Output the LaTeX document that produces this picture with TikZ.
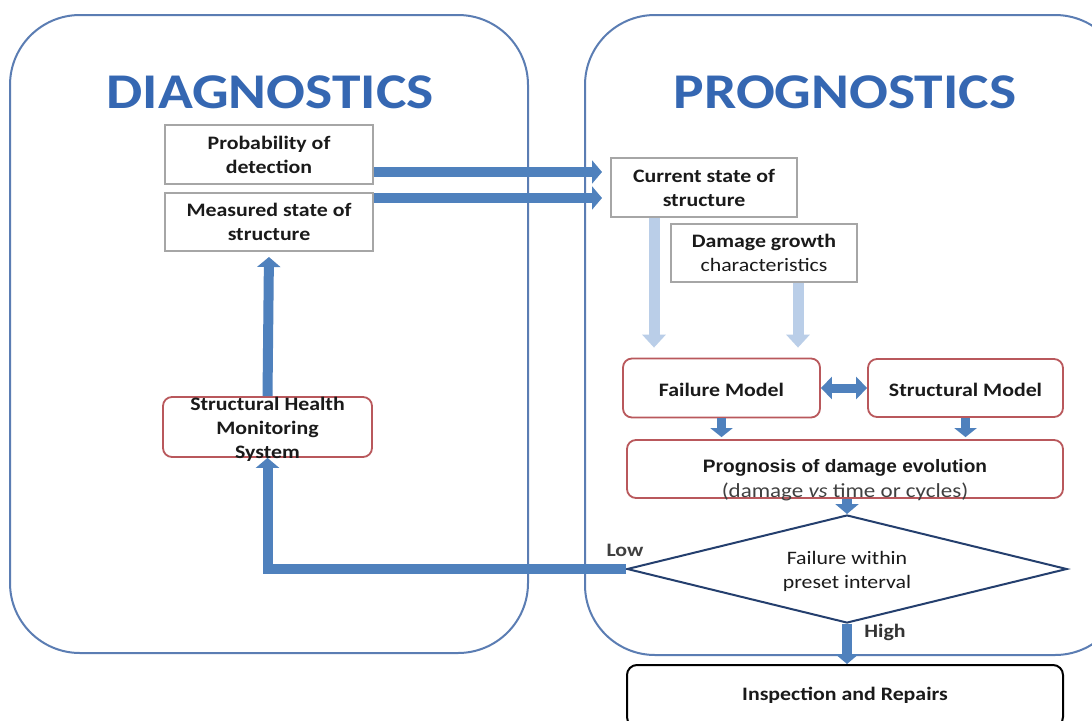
\documentclass[tikz,border=0pt]{standalone}
\usepackage{fontspec}
\setmainfont{Carlito}[FakeStretch=1.15]
\newfontfamily\arialfont{Liberation Sans}[FakeStretch=1.06]
\usetikzlibrary{arrows.meta,shapes.geometric}
\definecolor{framec}{HTML}{5B7DB3}
\definecolor{arrc}{HTML}{4F81BD}
\definecolor{lightc}{HTML}{BACEE8}
\definecolor{redc}{HTML}{B9585C}
\definecolor{grayc}{HTML}{A6A6A6}
\definecolor{diac}{HTML}{243F6E}
\definecolor{titlec}{HTML}{3567B2}
\definecolor{txtc}{HTML}{1A1A1A}
\newcommand\bodysize{\fontsize{19}{24}\selectfont}
\begin{document}
\begin{tikzpicture}[x=1pt,y=-1pt,
  bigframe/.style={draw=framec, line width=2pt, rounded corners=70pt},
  titletext/.style={font=\fontsize{50}{60}\selectfont\bfseries, text=titlec, inner sep=0pt},
  graybox/.style={draw=grayc, line width=2pt, fill=white, minimum width=208pt, minimum height=59pt, inner sep=0pt, align=center, text=txtc, font=\bodysize},
  redbox/.style={draw=redc, line width=1.8pt, fill=white, rounded corners=9pt, inner sep=0pt, text=txtc, font=\bodysize\bfseries},
  bluearrow/.style={draw=arrc, line width=10pt, -{Triangle[length=10pt,width=23pt]}},
  lightarrow/.style={draw=lightc, line width=11pt, -{Triangle[length=13pt,width=23pt]}},
  smallarrow/.style={draw=arrc, line width=9pt, -{Triangle[length=9pt,width=22pt]}},
  dblarrow/.style={draw=arrc, line width=9pt, {Triangle[length=11pt,width=22pt]}-{Triangle[length=11pt,width=22pt]}},
  labeltext/.style={font=\bodysize\bfseries, text=txtc, inner sep=0pt}
]
\useasboundingbox (0,0) rectangle (1092,720);
\fill[white] (0,0) rectangle (1092,720);

% big frames
\draw[bigframe] (10,15) rectangle (528,653);
\draw[bigframe] (585,15) rectangle (1125,655);

% titles
\node[titletext] (diag) at (270,92) {DIAGNOSTICS};
\node[titletext] (prog) at (845,92) {PROGNOSTICS};

% boxes (left)
\node[graybox, font=\bodysize\bfseries] (prob) at (269,154.5) {Probability of\\detection};
\node[graybox, font=\bodysize\bfseries, minimum height=58pt] (meas) at (269,222) {Measured state of\\structure};
\node[redbox, minimum width=209pt, minimum height=60pt] (shm) at (267.5,427) {};

% boxes (right)
\node[graybox, font=\bodysize\bfseries, minimum width=186pt] (cur) at (704,187.5) {Current state of\\structure};
\node[graybox, minimum width=186pt, minimum height=58pt] (dmg) at (764,253) {\textbf{Damage growth}\\characteristics};
\node[redbox, minimum width=197pt, minimum height=59pt] (fail) at (721.5,388) {};
\node[redbox, minimum width=195pt, minimum height=58pt] (struc) at (965.5,388) {};
\node[redbox, minimum width=436pt, minimum height=58pt] (progn) at (845,469) {};
\node[draw=diac, line width=2pt, fill=white, shape=diamond, aspect=4, minimum width=440pt, minimum height=108pt, inner sep=0pt] (dia) at (847,569) {};
\node[draw=black, line width=2pt, fill=white, rounded corners=10pt, minimum width=436pt, minimum height=62pt, inner sep=0pt] (insp) at (845,696) {};

% arrows
\coordinate (a1) at ([yshift=-17.5pt]prob.east);
\coordinate (a2) at ([yshift=24pt]meas.east);
\draw[bluearrow, shorten >=8pt] (a1) -- (a1 -| cur.west);
\draw[bluearrow, shorten >=8pt] (a2) -- (a2 -| cur.west);

\coordinate (l1) at ([xshift=-50pt]cur.south);
\coordinate (l2) at ([xshift=34pt]dmg.south);
\draw[lightarrow, shorten >=10pt] (l1) -- (l1 |- fail.north);
\draw[lightarrow, shorten >=10pt] (l2) -- (l2 |- fail.north);

\draw[dblarrow] (fail.east) -- (struc.west);
\draw[smallarrow, shorten >=2pt] (fail.south) -- (fail.south |- progn.north);
\draw[smallarrow, shorten >=2pt] (struc.south) -- (struc.south |- progn.north);

\draw[bluearrow] (dia.north |- progn.south) -- (dia.north);
\draw[bluearrow, line join=miter] (dia.west) -| (shm.south);
\draw[bluearrow, shorten >=5pt] (shm.north) -- (meas.south);
\draw[bluearrow] (dia.south) -- (dia.south |- insp.north);

% texts drawn on top
\node[labeltext, align=center] (shmt) at (267.5,429) {Structural Health\\Monitoring\\System};
\node[labeltext] (failt) at (721.5,390) {Failure Model};
\node[labeltext] (struct) at (965.5,390) {Structural Model};
\node[inner sep=0pt, align=center, text=txtc] (prognt) at (845,480)
  {{\arialfont\fontsize{18}{28}\selectfont\bfseries Prognosis of damage evolution}\\[5pt]
   {\fontsize{20}{24}\selectfont\color{black!75}(damage \textit{vs} time or cycles)}};
\node[inner sep=0pt, align=center, text=txtc, font=\bodysize] (diat) at (847,571) {Failure within\\preset interval};
\node[labeltext, text=black!75] (low) at (625,550) {Low};
\node[labeltext, text=black!80] (high) at (885,632) {High};
\node[labeltext] (inspt) at (845,695) {Inspection and Repairs};
\end{tikzpicture}
\end{document}
